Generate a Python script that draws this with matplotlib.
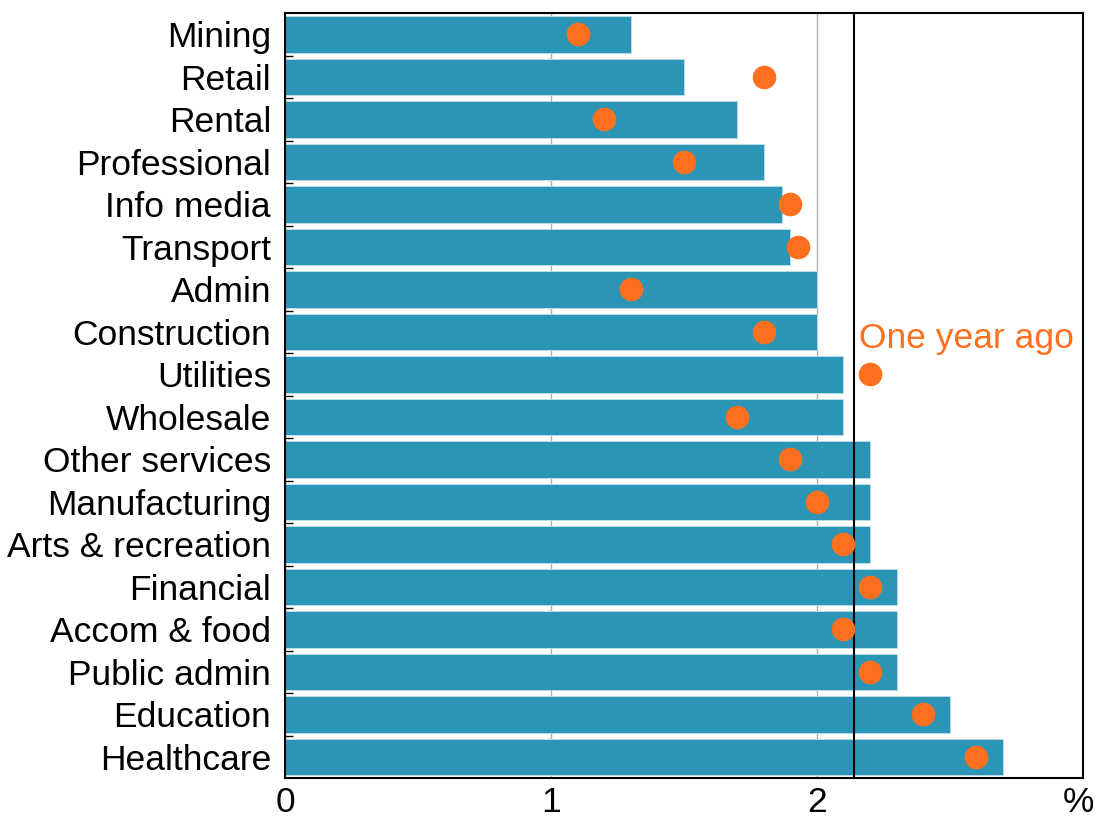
import numpy as np
import matplotlib.pyplot as plt
import matplotlib.transforms as mtransforms

plt.rcParams['font.family'] = ['Liberation Sans', 'DejaVu Sans']

industries = ['Mining', 'Retail', 'Rental', 'Professional', 'Info media', 'Transport',
              'Admin', 'Construction', 'Utilities', 'Wholesale', 'Other services',
              'Manufacturing', 'Arts & recreation', 'Financial', 'Accom & food',
              'Public admin', 'Education', 'Healthcare']
current = [1.3, 1.5, 1.7, 1.8, 1.87, 1.9, 2.0, 2.0, 2.1, 2.1, 2.2, 2.2, 2.2,
           2.3, 2.3, 2.3, 2.5, 2.7]
year_ago = [1.1, 1.8, 1.2, 1.5, 1.9, 1.93, 1.3, 1.8, 2.2, 1.7, 1.9, 2.0, 2.1,
            2.2, 2.1, 2.2, 2.4, 2.6]
average = 2.14

bar_col = '#2a95b5'
dot_col = '#ff6f20'

fig = plt.figure(figsize=(10.96, 8.19), dpi=100)
ax = fig.add_axes([0.260, 0.050, 0.728, 0.934])

y = np.arange(len(industries))
ax.barh(y, current, height=0.86, color=bar_col, edgecolor='#bfe0ea', linewidth=0.6, zorder=2)
ax.scatter(year_ago, y, s=290, color=dot_col, zorder=4, linewidths=0)
ax.axvline(average, color='black', lw=1.5, zorder=3)

ax.set_xlim(0, 3)
ax.set_ylim(len(industries) - 0.5, -0.5)
ax.set_xticks([0, 1, 2, 3])
ax.set_xticklabels(['0', '1', '2', '%'])
ax.set_yticks(y)
ax.set_yticklabels(industries)
ax.set_yticks(np.arange(len(industries) - 1) + 0.5, minor=True)
ax.tick_params(axis='y', which='major', length=0, pad=10, labelsize=25.5)
ax.tick_params(axis='y', which='minor', direction='in', length=6, width=1)
ax.tick_params(axis='x', length=0, pad=6, labelsize=25.5)
ax.grid(axis='x', color='#b0b0b0', lw=1, zorder=1)
ax.set_axisbelow(True)
for s in ax.spines.values():
    s.set_linewidth(1.5)

# nudge the % label left so it stays inside the figure
pct = ax.get_xticklabels()[-1]
pct.set_transform(pct.get_transform() +
                  mtransforms.ScaledTranslation(-4 / 100, 0, fig.dpi_scale_trans))

ax.text(average + 0.02, 7.15, 'One year ago', color=dot_col, fontsize=25.5,
        ha='left', va='center')

fig.savefig('out.png', dpi=100)
